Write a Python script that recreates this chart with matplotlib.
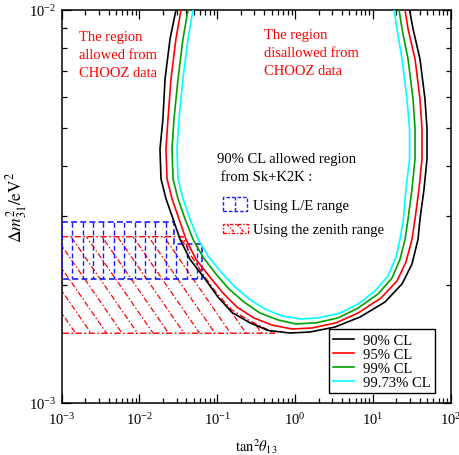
import numpy as np
import matplotlib
matplotlib.use("Agg")
import matplotlib.pyplot as plt
from matplotlib.patches import Polygon, Rectangle
from matplotlib.ticker import NullFormatter, LogLocator

plt.rcParams['font.family'] = ['Liberation Serif', 'DejaVu Serif']
plt.rcParams['mathtext.fontset'] = 'stix'

# --- CHOOZ exclusion contours (tan^2 theta13, dm^2_31 in eV^2) ---
cl90_x = [0.0294, 0.0247, 0.0213, 0.0200, 0.01834, 0.01889, 0.0219, 0.0270, 0.0332, 0.0446,
          0.0695, 0.102, 0.1545, 0.263, 0.448, 0.860, 1.554, 3.26, 6.83, 14.3,
          23.7, 31.8, 38.0, 40.3, 45.4, 49.6, 49.6, 46.7, 40.3, 32.8, 29.6]
cl90_y = [0.0100, 0.00844, 0.00668, 0.00528, 0.00443, 0.00372, 0.00331, 0.00294, 0.00261, 0.00232,
          0.00207, 0.00186, 0.00170, 0.00160, 0.00153, 0.001507, 0.001516, 0.001561, 0.001655, 0.001807,
          0.002009, 0.002258, 0.00261, 0.00294, 0.00350, 0.00418, 0.00498, 0.00594, 0.00750, 0.00895, 0.0100]

cl95_x = [0.03414, 0.0294, 0.02541, 0.02324, 0.0219, 0.02257, 0.02617, 0.0322, 0.0396, 0.0532,
          0.0806, 0.1184, 0.179, 0.296, 0.505, 0.912, 1.649, 3.36, 6.43, 12.71,
          20.4, 26.6, 31.8, 34.8, 39.1, 42.8, 42.8, 40.3, 34.8, 28.3, 25.9]
cl95_y = [0.0100, 0.00844, 0.00668, 0.00528, 0.00443, 0.00372, 0.00331, 0.00294, 0.00261, 0.00232,
          0.00209, 0.001905, 0.001754, 0.001646, 0.001579, 0.001543, 0.001552, 0.00160, 0.001694, 0.00185,
          0.002044, 0.002285, 0.00261, 0.00294, 0.00350, 0.00418, 0.00498, 0.00594, 0.00750, 0.00895, 0.0100]

cl99_x = [0.0420, 0.0362, 0.03126, 0.02775, 0.02617, 0.0270, 0.03126, 0.0385, 0.0487, 0.0655,
          0.0962, 0.1414, 0.2204, 0.354, 0.603, 1.027, 1.856, 3.56, 6.43, 11.63,
          17.6, 22.3, 25.9, 28.3, 31.8, 34.8, 34.8, 32.8, 28.3, 23.7, 21.7]
cl99_y = [0.0100, 0.00844, 0.00668, 0.00528, 0.00443, 0.00372, 0.00331, 0.00294, 0.00261, 0.002352,
          0.002129, 0.00195, 0.001807, 0.001694, 0.001627, 0.001589, 0.00160, 0.001646, 0.001744, 0.001894,
          0.00208, 0.00232, 0.00261, 0.00294, 0.00350, 0.00418, 0.00498, 0.00594, 0.00750, 0.00895, 0.0100]

cl9973_x = [0.0487, 0.0420, 0.0362, 0.0322, 0.03034, 0.03126, 0.0362, 0.0446, 0.0565, 0.0760,
            0.1116, 0.164, 0.2556, 0.410, 0.679, 1.156, 1.969, 3.78, 6.43, 10.64,
            15.6, 19.8, 22.3, 24.7, 26.6, 29.6, 29.6, 27.4, 23.7, 20.4, 18.7]
cl9973_y = [0.0100, 0.00844, 0.00668, 0.00528, 0.00443, 0.00372, 0.00331, 0.00294, 0.00261, 0.002366,
            0.002154, 0.001985, 0.001839, 0.001735, 0.001665, 0.001636, 0.001646, 0.001694, 0.001786, 0.001928,
            0.002104, 0.002352, 0.00261, 0.00294, 0.00350, 0.00418, 0.00498, 0.00594, 0.00750, 0.00895, 0.0100]

cl_labels = ['90% CL', '95% CL', '99% CL', '99.73% CL']
cl_colors = ['black', '#ff0000', '#00a000', '#00ffff']

# --- Sk+K2K allowed regions ---
le_x = [1e-3, 0.028, 0.028, 0.063, 0.063, 1e-3]
le_y = [2.89e-3, 2.89e-3, 2.54e-3, 2.54e-3, 2.07e-3, 2.07e-3]

zen_x = [1e-3, 0.0362, 0.0446, 0.0695, 0.102, 0.1545, 0.263, 0.55, 1e-3]
zen_y = [2.65e-3, 2.65e-3, 2.393e-3, 2.09e-3, 1.883e-3, 1.724e-3, 1.617e-3, 1.505e-3, 1.505e-3]

fig = plt.figure(figsize=(4.6, 4.56), dpi=100)
ax = fig.add_axes([0.1341, 0.1140, 0.8457, 0.8618])
ax.set_xscale('log')
ax.set_yscale('log')
ax.set_xlim(1e-3, 1e2)
ax.set_ylim(1e-3, 1e-2)

W_PX, H_PX = 389.0, 393.0
BLUE = '#1a1aff'
RED = '#ff0000'
dash_blue = (0, (3.5, 2.0))
dash_red = (0, (4.5, 1.8, 1.2, 1.8))


def vertical_hatch(clip, spacing, offset):
    for xp in np.arange(offset, W_PX, spacing):
        ln, = ax.plot([xp / W_PX, xp / W_PX], [0, 1], transform=ax.transAxes,
                      color=BLUE, lw=1.0, linestyle=dash_blue, zorder=2)
        ln.set_clip_path(clip)


def diagonal_hatch(clip, spacing, slope, offset):
    run = H_PX / slope
    for xp in np.arange(offset - run, W_PX + run, spacing):
        ln, = ax.plot([xp / W_PX, (xp + run) / W_PX], [1, 0], transform=ax.transAxes,
                      color=RED, lw=0.9, linestyle=dash_red, zorder=2)
        ln.set_clip_path(clip)


# zenith-angle region (red, dash-dot, diagonal hatch)
zen = Polygon(np.column_stack([zen_x, zen_y]), closed=True, fill=False,
              edgecolor=RED, lw=1.0, linestyle=dash_red, zorder=2)
ax.add_patch(zen)
diagonal_hatch(zen, 15.5, 1.45, 0.0)

# L/E region (blue, dashed, vertical hatch)
le = Polygon(np.column_stack([le_x, le_y]), closed=True, fill=False,
             edgecolor=BLUE, lw=1.2, linestyle=dash_blue, zorder=3)
ax.add_patch(le)
vertical_hatch(le, 10.4, 10.6)

# contours
for cx, cy, lab, col in zip([cl90_x, cl95_x, cl99_x, cl9973_x],
                            [cl90_y, cl95_y, cl99_y, cl9973_y], cl_labels, cl_colors):
    ax.plot(cx, cy, color=col, lw=1.2, label=lab, zorder=4)

# annotations
FS = 10.5
ax.text(0.0445, 0.949, 'The region\nallowed from\nCHOOZ data', transform=ax.transAxes,
        color=RED, fontsize=FS, va='top', ha='left', linespacing=1.52)
ax.text(0.520, 0.955, 'The region\ndisallowed from\nCHOOZ data', transform=ax.transAxes,
        color=RED, fontsize=FS, va='top', ha='left', linespacing=1.52)
ax.text(0.398, 0.638, '90% CL allowed region\n from Sk+K2K :', transform=ax.transAxes,
        color='black', fontsize=FS, va='top', ha='left', linespacing=1.52)

# key symbols for the two regions
ib = Rectangle((0.4155, 0.4893), 0.0617, 0.0341, transform=ax.transAxes, fill=False,
               edgecolor=BLUE, lw=1.0, linestyle=(0, (2.5, 1.5)), zorder=3)
ax.add_patch(ib)
ax.plot([0.4463, 0.4463], [0.4893, 0.5234], transform=ax.transAxes, color=BLUE,
        lw=1.0, linestyle=(0, (2.5, 1.5)))
ir = Rectangle((0.4147, 0.4326), 0.0642, 0.0229, transform=ax.transAxes, fill=False,
               edgecolor=RED, lw=1.0, linestyle=(0, (2.5, 1.2, 1, 1.2)), zorder=3)
ax.add_patch(ir)
for u0 in (0.425, 0.450):
    ln, = ax.plot([u0, u0 + 0.02], [0.4555, 0.4326], transform=ax.transAxes, color=RED,
                  lw=0.9, linestyle=(0, (2.5, 1.2, 1, 1.2)))
    ln.set_clip_path(ir)
ax.text(0.4925, 0.5038, 'Using L/E range', transform=ax.transAxes, fontsize=FS,
        va='center', ha='left')
ax.text(0.4925, 0.4427, 'Using the zenith range', transform=ax.transAxes, fontsize=FS,
        va='center', ha='left')

leg = ax.legend(loc='lower right', bbox_to_anchor=(0.9597, 0.0254), fontsize=FS,
                frameon=True, fancybox=False, edgecolor='black', framealpha=1,
                handlelength=1.45, handletextpad=0.6, borderpad=0.3, labelspacing=0.05,
                borderaxespad=0)
leg.get_frame().set_linewidth(1.0)

# axes styling
for sp in ax.spines.values():
    sp.set_linewidth(1.1)
ax.xaxis.set_major_locator(LogLocator(base=10, numticks=10))
ax.xaxis.set_minor_locator(LogLocator(base=10, subs=np.arange(2, 10), numticks=20))
ax.yaxis.set_minor_locator(LogLocator(base=10, subs=np.arange(2, 10), numticks=20))
ax.xaxis.set_minor_formatter(NullFormatter())
ax.yaxis.set_minor_formatter(NullFormatter())
ax.tick_params(which='both', direction='in', top=True, right=True, labelsize=10.5, width=0.9)
ax.tick_params(which='major', length=6.5)
ax.tick_params(axis='x', which='major', pad=6)
ax.tick_params(axis='y', which='major', pad=4)
ax.tick_params(which='minor', length=3.4)

ax.set_xlabel(r'$\mathrm{tan}^2\theta_{13}$', fontsize=FS)
ax.xaxis.set_label_coords(0.5, -0.085)
ax.set_ylabel(r'$\Delta m^2_{31}/\mathrm{eV}^2$', fontsize=12.5)
ax.yaxis.set_label_coords(-0.085, 0.5)

fig.savefig('out.png', dpi=100)
